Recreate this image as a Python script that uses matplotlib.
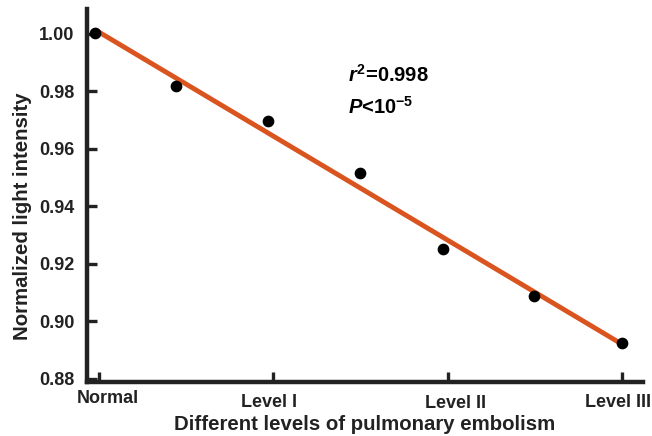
import numpy as np
import matplotlib
matplotlib.use("Agg")
import matplotlib.pyplot as plt
from matplotlib.transforms import ScaledTranslation

plt.rcParams['font.family'] = ['Liberation Sans', 'DejaVu Sans']
plt.rcParams['font.weight'] = 'bold'
plt.rcParams['mathtext.fontset'] = 'custom'
plt.rcParams['mathtext.it'] = 'Liberation Sans:italic:bold'
plt.rcParams['mathtext.rm'] = 'Liberation Sans:bold'
plt.rcParams['mathtext.bf'] = 'Liberation Sans:bold'

# data
level_pos = [-0.05, 0.88, 1.94, 2.99, 3.95, 4.99, 6.0]
intensity = [1.0002, 0.9817, 0.9695, 0.9516, 0.9250, 0.9089, 0.8924]
tick_pos = [0, 2, 4, 6]
tick_labels = ['Normal', 'Level I', 'Level II', 'Level III']
y_ticks = [0.88, 0.90, 0.92, 0.94, 0.96, 0.98, 1.00]

dark = '#222222'

fig = plt.figure(figsize=(6.52, 4.36), dpi=100)
ax = fig.add_axes([0.1334, 0.125, 0.8523, 0.854])

x_min, x_max = -0.138, 6.24

# linear fit through the points
slope, icpt = np.polyfit(level_pos, intensity, 1)
fx = np.array([level_pos[0], level_pos[-1]])
ax.plot(fx, slope * fx + icpt, color='#D9541E', lw=3.5, zorder=2, solid_capstyle='butt')
ax.scatter(level_pos, intensity, s=55, color='black', zorder=3)

ax.set_xlim(x_min, x_max)
ax.set_ylim(0.879, 1.0085)
ax.set_xticks(tick_pos)
ax.set_xticklabels(tick_labels)
ax.set_yticks(y_ticks)
ax.set_yticklabels(['%.2f' % v for v in y_ticks])

for s in ['top', 'right']:
    ax.spines[s].set_visible(False)
for s in ['left', 'bottom']:
    ax.spines[s].set_linewidth(3.2)
    ax.spines[s].set_color(dark)

ax.tick_params(direction='in', length=7, width=2.4, color=dark,
               labelsize=13, labelcolor=dark)
ax.tick_params(axis='y', pad=9)
ax.tick_params(axis='x', pad=6)

# the x tick labels sit a little off their ticks in the original
nudges = [(9, 0), (-4, -4), (8, -5), (-4, -4)]
for lab, (dx, dy) in zip(ax.get_xticklabels(), nudges):
    lab.set_transform(lab.get_transform() +
                      ScaledTranslation(dx / 100, dy / 100, fig.dpi_scale_trans))

ax.set_xlabel('Different levels of pulmonary embolism', fontsize=14.7,
              fontweight='bold', color=dark)
ax.xaxis.set_label_coords(0.5, -0.09)
ax.set_ylabel('Normalized light intensity', fontsize=14.7,
              fontweight='bold', color=dark)
ax.yaxis.set_label_coords(-0.099, 0.444)

ax.text(2.86, 0.9856, r'$r^{2}$=0.998', fontsize=14.5, fontweight='bold',
        color='black', va='center')
ax.text(2.86, 0.9745, r'$P$<10$^{-5}$', fontsize=14.5, fontweight='bold',
        color='black', va='center')

fig.savefig('out.png', dpi=100)
